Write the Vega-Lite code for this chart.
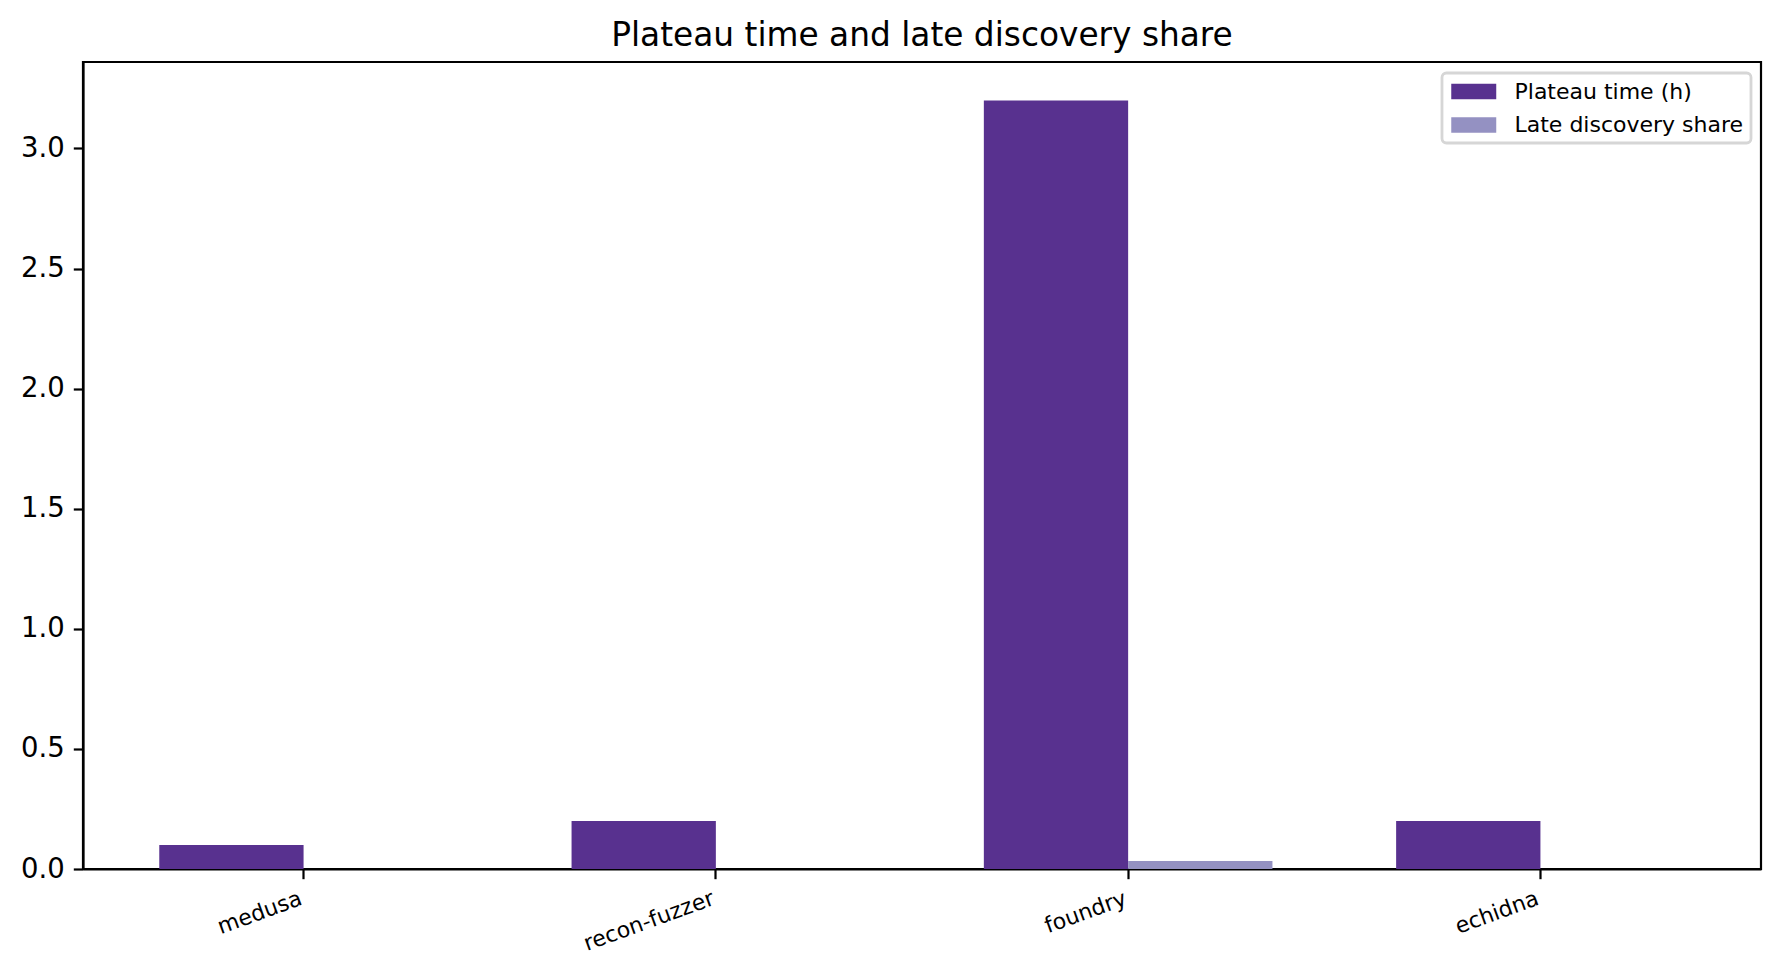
{
  "$schema": "https://vega.github.io/schema/vega-lite/v6.json",
  "width": 1678,
  "height": 807,
  "autosize": {"type": "none"},
  "padding": {"left": 83, "top": 62, "right": 20, "bottom": 108},
  "background": "white",
  "title": {
    "text": "Plateau time and late discovery share",
    "font": "DejaVu Sans",
    "fontSize": 32.8,
    "fontWeight": "normal",
    "color": "black",
    "anchor": "middle",
    "baseline": "alphabetic",
    "offset": -17
  },
  "config": {
    "font": "DejaVu Sans",
    "view": {"stroke": "black", "strokeWidth": 2.2},
    "axis": {
      "domainColor": "black",
      "domainWidth": 2.2,
      "tickColor": "black",
      "tickWidth": 2.2,
      "tickSize": 9.7,
      "labelColor": "black",
      "labelFont": "DejaVu Sans",
      "grid": false,
      "title": null
    }
  },
  "data": {
    "values": [
      {"fuzzer": "medusa", "series": "Plateau time (h)", "value": 0.1},
      {"fuzzer": "medusa", "series": "Late discovery share", "value": 0},
      {"fuzzer": "recon-fuzzer", "series": "Plateau time (h)", "value": 0.2},
      {"fuzzer": "recon-fuzzer", "series": "Late discovery share", "value": 0},
      {"fuzzer": "foundry", "series": "Plateau time (h)", "value": 3.2},
      {"fuzzer": "foundry", "series": "Late discovery share", "value": 0.033},
      {"fuzzer": "echidna", "series": "Plateau time (h)", "value": 0.2},
      {"fuzzer": "echidna", "series": "Late discovery share", "value": 0}
    ]
  },
  "mark": {"type": "bar"},
  "encoding": {
    "x": {
      "field": "fuzzer",
      "type": "nominal",
      "sort": ["medusa", "recon-fuzzer", "foundry", "echidna"],
      "scale": {"paddingInner": 0.3, "paddingOuter": 0.185},
      "axis": {
        "labelAngle": -20,
        "labelAlign": "right",
        "labelBaseline": "top",
        "labelFontSize": 22,
        "labelPadding": 9,
        "labelOffset": -6
      }
    },
    "xOffset": {
      "field": "series",
      "type": "nominal",
      "sort": ["Plateau time (h)", "Late discovery share"],
      "scale": {"paddingInner": 0, "paddingOuter": 0}
    },
    "y": {
      "field": "value",
      "type": "quantitative",
      "scale": {"domain": [0, 3.36], "nice": false, "zero": true},
      "axis": {
        "values": [0, 0.5, 1, 1.5, 2, 2.5, 3],
        "format": ".1f",
        "labelFontSize": 27.5,
        "labelPadding": 9
      }
    },
    "color": {
      "field": "series",
      "type": "nominal",
      "sort": ["Plateau time (h)", "Late discovery share"],
      "scale": {
        "domain": ["Plateau time (h)", "Late discovery share"],
        "range": ["#58318f", "#9491c2"]
      },
      "legend": {
        "title": null,
        "orient": "none",
        "legendX": 1359,
        "legendY": 11,
        "direction": "vertical",
        "fillColor": "white",
        "strokeColor": "#d6d6d6",
        "cornerRadius": 4.4,
        "padding": 7,
        "symbolType": "M-2,-0.7L2,-0.7L2,0.7L-2,0.7Z",
        "symbolSize": 506,
        "symbolStrokeWidth": 0,
        "symbolOpacity": 1,
        "symbolOffset": 13.25,
        "labelOffset": 29.25,
        "labelFont": "DejaVu Sans",
        "labelFontSize": 22,
        "labelColor": "black",
        "labelLimit": 400,
        "rowPadding": 10.5,
        "encode": {
          "legend": {"update": {"strokeWidth": {"value": 2.8}}}
        }
      }
    }
  }
}
